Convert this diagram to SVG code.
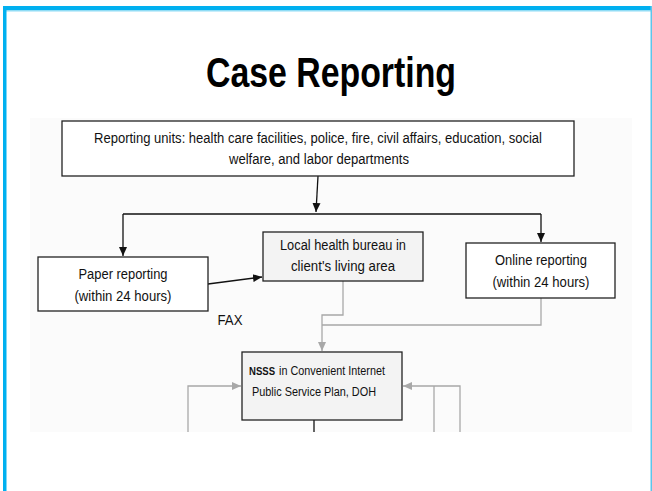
<svg xmlns="http://www.w3.org/2000/svg" width="652" height="491" viewBox="0 0 652 491">
<defs>
<marker id="ab" markerWidth="10" markerHeight="10" refX="9" refY="5" orient="auto" markerUnits="userSpaceOnUse"><path d="M0,1 L9,5 L0,9 Z" fill="#111"/></marker>
<marker id="ag" markerWidth="10" markerHeight="10" refX="9" refY="5" orient="auto" markerUnits="userSpaceOnUse"><path d="M0,1 L9,5 L0,9 Z" fill="#a8a8a8"/></marker>
</defs>
<style>
.t{font-family:"Liberation Sans",Arial,sans-serif;font-size:14px;fill:#111;text-anchor:middle}
.s{font-family:"Liberation Sans",Arial,sans-serif;font-size:12px;fill:#111}
.box{fill:#fff;stroke:#222;stroke-width:1.3}
.gbox{fill:#f3f3f3;stroke:#222;stroke-width:1.3}
.k{fill:none;stroke:#111;stroke-width:1.3}
.g{fill:none;stroke:#a8a8a8;stroke-width:1.3}
</style>
<rect x="0" y="0" width="652" height="491" fill="#fff"/>
<rect x="3" y="6" width="649" height="4" fill="#00b0f0"/>
<rect x="3" y="10" width="649" height="1.5" fill="#8fdcf5"/>
<rect x="3" y="6" width="3.5" height="485" fill="#00b0f0"/>
<rect x="650.5" y="6" width="1.5" height="485" fill="#5cc6ec"/>
<text x="331" y="87" font-family="'Liberation Sans',Arial,sans-serif" font-weight="bold" font-size="42" text-anchor="middle" textLength="250" lengthAdjust="spacingAndGlyphs" fill="#000">Case Reporting</text>
<rect x="30" y="118" width="602" height="314" fill="#fbfbfb"/>
<g id="connectors">
<path class="k" d="M318,176 L316,212" marker-end="url(#ab)"/>
<path class="k" d="M123,214 L541,214"/>
<path class="k" d="M123,214 L123,256" marker-end="url(#ab)"/>
<path class="k" d="M541,214 L541,242" marker-end="url(#ab)"/>
<path class="k" d="M208,284 L262,277" marker-end="url(#ab)"/>
<path class="g" d="M343,281 L343,315 L322,315 L322,351" marker-end="url(#ag)"/>
<path class="g" d="M541,298 L541,325 L322,325"/>
<path class="g" d="M188,432 L188,386 L241,386" marker-end="url(#ag)"/>
<path class="g" d="M460,432 L460,386 L403,386" marker-end="url(#ag)"/>
<path class="g" d="M434,432 L434,386"/>
<path class="k" d="M314,420 L314,432"/>
</g>
<g id="reporting-units">
<rect class="box" x="62" y="121" width="512" height="55"/>
<text class="t" x="318" y="143" textLength="448" lengthAdjust="spacingAndGlyphs">Reporting units: health care facilities, police, fire, civil affairs, education, social</text>
<text class="t" x="319" y="164" textLength="180" lengthAdjust="spacingAndGlyphs">welfare, and labor departments</text>
</g>
<g id="paper-reporting">
<rect class="box" x="38" y="257" width="170" height="54"/>
<text class="t" x="123" y="279" textLength="89" lengthAdjust="spacingAndGlyphs">Paper reporting</text>
<text class="t" x="123" y="301" textLength="97" lengthAdjust="spacingAndGlyphs">(within 24 hours)</text>
</g>
<g id="local-health-bureau">
<rect class="gbox" x="263" y="232" width="160" height="49"/>
<text class="t" x="343" y="250" textLength="126" lengthAdjust="spacingAndGlyphs">Local health bureau in</text>
<text class="t" x="343" y="271" textLength="104" lengthAdjust="spacingAndGlyphs">client's living area</text>
</g>
<g id="online-reporting">
<rect class="box" x="466" y="243" width="149" height="55"/>
<text class="t" x="541" y="265" textLength="92" lengthAdjust="spacingAndGlyphs">Online reporting</text>
<text class="t" x="541" y="287" textLength="97" lengthAdjust="spacingAndGlyphs">(within 24 hours)</text>
</g>
<g id="fax">
<text class="t" x="230" y="325" textLength="25" lengthAdjust="spacingAndGlyphs">FAX</text>
</g>
<g id="nsss">
<rect class="gbox" x="242" y="352" width="160" height="68"/>
<text x="249" y="375" font-family="'Liberation Sans',Arial,sans-serif" font-size="10.5" font-weight="bold" fill="#111" textLength="26" lengthAdjust="spacingAndGlyphs">NSSS</text>
<text class="s" x="279" y="375" textLength="106" lengthAdjust="spacingAndGlyphs">in Convenient Internet</text>
<text class="s" x="252" y="396" textLength="124" lengthAdjust="spacingAndGlyphs">Public Service Plan, DOH</text>
</g>
</svg>
